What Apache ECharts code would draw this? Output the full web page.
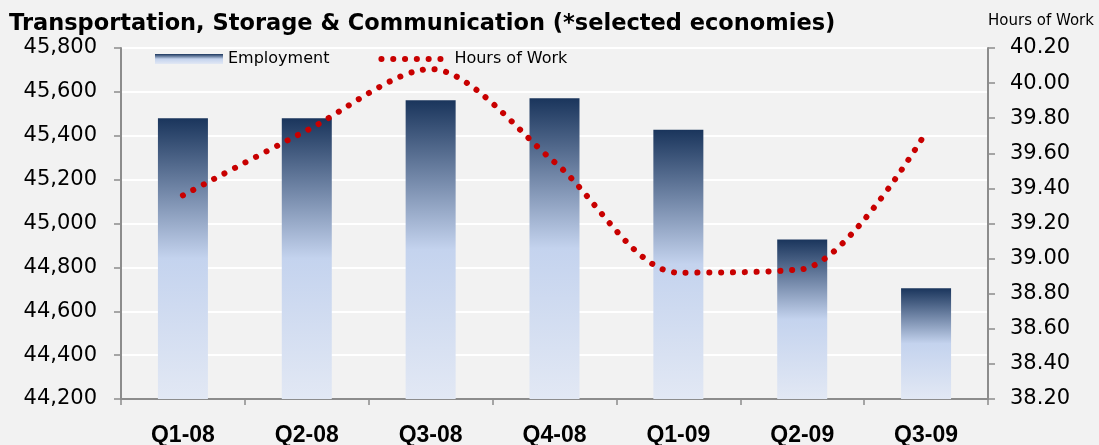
<!DOCTYPE html>
<html lang="en">
<head>
    <meta charset="utf-8">
    <title>Employment and Hours of Work - Transportation, Storage & Communication</title>
    <script src="https://cdn.jsdelivr.net/npm/echarts@6/dist/echarts.min.js"></script>
    <style>
        * {
          margin: 0;
          padding: 0;
        }
        body {
            background-color: #f2f2f2;
        }
        #main {
            width: 1099px;
            height: 445px;
        }
    </style>
</head>
<body>
<div id="main"></div>
<script>
    // quarters on the x axis
    const quarters = ['Q1-08', 'Q2-08', 'Q3-08', 'Q4-08', 'Q1-09', 'Q2-09', 'Q3-09'];
    // employment (000s), left axis
    const employment = [45480, 45480, 45562, 45571, 45427, 44927, 44705];
    // average weekly hours, right axis
    const hoursOfWork = [39.36, 39.73, 40.08, 39.55, 38.92, 38.94, 39.72];

    const titleText = 'Transportation, Storage & Communication (*selected economies)';
    const rightAxisTitle = 'Hours of Work';

    const labelFont = 'DejaVu Sans';
    const axisColor = '#8c8c8c';
    const lineColor = '#c80000';

    var myChart = echarts.init(document.getElementById('main'), null, {
        renderer: 'canvas'
    });

    const barColor = new echarts.graphic.LinearGradient(0, 0, 0, 1, [
        { offset: 0, color: '#1a355c' },
        { offset: 0.5, color: '#c4d3ee' },
        { offset: 1, color: '#e2e8f4' }
    ]);

    // dotted red line: tiny dashes with round caps
    const dottedLine = {
        color: lineColor,
        width: 6,
        type: [0.1, 11.7],
        cap: 'round'
    };

    const option = {
        backgroundColor: '#f2f2f2',
        animation: false,
        title: [
            {
                text: titleText,
                left: 4,
                top: 8,
                textStyle: {
                    fontFamily: 'DejaVu Sans',
                    fontWeight: 'bold',
                    fontSize: 22.5,
                    color: '#000'
                }
            },
            {
                text: rightAxisTitle,
                left: 983,
                top: 9,
                textStyle: {
                    fontFamily: labelFont,
                    fontWeight: 'normal',
                    fontSize: 15,
                    color: '#000'
                }
            }
        ],
        legend: {
            left: 150,
            top: 46,
            itemWidth: 68,
            itemHeight: 10,
            itemGap: 49,
            textStyle: {
                fontFamily: labelFont,
                fontSize: 16,
                color: '#000'
            },
            data: [
                { name: 'Employment', icon: 'rect' },
                { name: 'Hours of Work', itemStyle: { opacity: 0 }, lineStyle: dottedLine }
            ]
        },
        grid: {
            left: 121,
            right: 111,
            top: 48,
            bottom: 46,
            outerBoundsMode: 'none'
        },
        xAxis: {
            type: 'category',
            data: quarters,
            axisLine: { lineStyle: { color: axisColor, width: 2 } },
            axisTick: { show: true, length: 6, inside: false, lineStyle: { color: axisColor, width: 1.5 } },
            axisLabel: {
                margin: 25,
                fontFamily: 'Liberation Sans',
                fontWeight: 'bold',
                fontSize: 23,
                color: '#000'
            }
        },
        yAxis: [
            {
                type: 'value',
                position: 'left',
                min: 44200,
                max: 45800,
                interval: 200,
                axisLine: { show: true, lineStyle: { color: axisColor, width: 2 } },
                axisTick: { show: true, length: 7, lineStyle: { color: axisColor, width: 1.5 } },
                splitLine: { show: true, lineStyle: { color: '#ffffff', width: 2 } },
                axisLabel: {
                    margin: 24,
                    fontFamily: labelFont,
                    fontSize: 21,
                    color: '#000',
                    formatter: v => v.toLocaleString('en-US')
                }
            },
            {
                type: 'value',
                position: 'right',
                min: 38.2,
                max: 40.2,
                interval: 0.2,
                axisLine: { show: true, lineStyle: { color: axisColor, width: 2 } },
                axisTick: { show: true, length: 7, lineStyle: { color: axisColor, width: 1.5 } },
                splitLine: { show: false },
                axisLabel: {
                    margin: 22,
                    fontFamily: labelFont,
                    fontSize: 21,
                    color: '#000',
                    formatter: v => v.toFixed(2)
                }
            }
        ],
        series: [
            {
                name: 'Employment',
                type: 'bar',
                data: employment,
                yAxisIndex: 0,
                barWidth: 50,
                itemStyle: { color: barColor }
            },
            {
                name: 'Hours of Work',
                type: 'line',
                data: hoursOfWork,
                yAxisIndex: 1,
                smooth: 0.3,
                symbol: 'none',
                showSymbol: false,
                itemStyle: { color: lineColor },
                lineStyle: dottedLine
            }
        ]
    };

    myChart.setOption(option);
</script>
</body>
</html>
